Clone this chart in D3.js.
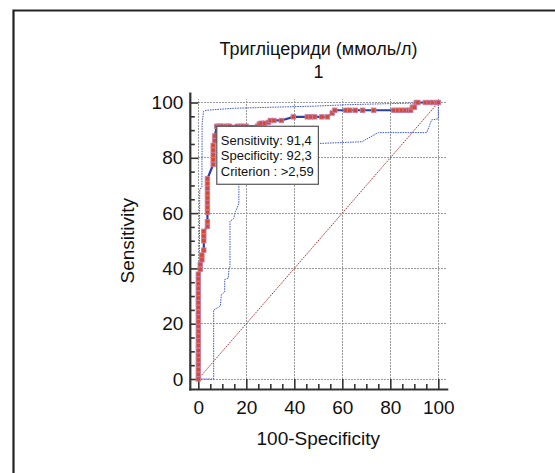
<!DOCTYPE html>
<html>
<head>
<meta charset="utf-8">
<script src="https://cdn.jsdelivr.net/npm/d3@7"></script>
<style>
    body { margin: 0; background: #fff; }
    svg { display: block; font-family: 'Liberation Sans', Arial, sans-serif; }
    .grid line { stroke: #9a9a9a; stroke-width: 1; stroke-dasharray: 2, 1; shape-rendering: crispEdges; }
    .axis text { font-size: 19px; fill: #111; }
    .axis line { stroke: #333; stroke-width: 1.6; }
    .label { font-size: 19px; fill: #111; }
    .title { font-size: 18px; fill: #111; }
    .info text { font-size: 13px; fill: #111; }
</style>
</head>
<body>
<svg width="555" height="473"></svg>
<script>
// ROC curve points: 100-Specificity and Sensitivity
const rocFpr = [
    0, 0, 0, 0, 0, 0, 0, 0, 0, 0, 0, 0, 0, 0, 0, 0, 0, 0, 0, 0, 0, 0, 0,
    0.8, 0.8, 1.5, 1.5, 2.3, 2.3, 2.3, 2.3,
    3.8, 3.8, 3.8, 3.8, 3.8, 3.8, 3.8, 3.8, 3.8, 3.8,
    6.2, 6.2, 6.2, 6.2, 6.2, 6.9, 6.9, 7.7,
    8.5, 9.2, 10.0, 11.5, 12.3, 13.1, 16.2, 17.7, 18.5, 20.0, 24.6,
    25.4, 26.2, 27.7, 29.2, 30.0, 31.5, 34.6, 39.6,
    45.4, 46.9, 48.5, 51.5, 53.8, 55.8, 56.9,
    61.5, 63.1, 65.4, 68.5, 73.1, 81.5, 83.1, 84.6, 86.2, 87.7, 88.5,
    89.2, 90.0, 90.8, 91.5, 94.6, 96.2, 97.7, 99.2, 100
];
const rocSens = [
    0, 1.7, 3.4, 5.2, 6.9, 8.6, 10.3, 12.1, 13.8, 15.5, 17.2, 19.0, 20.7, 22.4, 24.1, 25.9, 27.6, 29.3, 31.0, 32.8, 34.5, 36.2, 37.9,
    39.7, 41.4, 43.1, 44.8, 46.6, 50.0, 51.7, 53.4,
    55.2, 56.9, 60.3, 62.1, 63.8, 65.5, 67.2, 69.0, 70.7, 72.4,
    77.6, 79.3, 81.0, 82.8, 84.5, 86.2, 87.9, 91.4,
    91.4, 91.4, 91.4, 91.4, 91.4, 91.4, 91.4, 91.4, 91.4, 91.4, 91.4,
    92.2, 92.5, 92.5, 92.8, 93.5, 93.5, 93.5, 94.8,
    94.8, 94.8, 94.8, 94.8, 94.8, 96.2, 97.2,
    97.2, 97.2, 97.2, 97.2, 97.2, 97.2, 97.2, 97.2, 97.2, 97.2, 97.2,
    98.3, 98.3, 100, 100, 100, 100, 100, 100, 100
];

// 95% confidence bounds
const upperFpr = [0, 0.3, 0.6, 1.5, 1.6, 2.2, 3.5, 14.6, 31, 49, 62, 80, 90, 100];
const upperSens = [0, 20, 68.5, 69.5, 92.5, 96.8, 97.2, 97.9, 98.3, 98.7, 99.2, 99.6, 99.8, 100];
const lowerFpr = [0, 6.4, 6.4, 8.5, 9.2, 9.6, 11.0, 11.0, 12.5, 12.8, 13.2, 13.2, 14.7, 15.5, 16.9, 16.9, 18, 30, 48, 50.7, 68.1, 75, 95.2, 97.2, 100, 100];
const lowerSens = [0, 0, 25.0, 26.0, 26.5, 30.5, 31.5, 36.0, 36.5, 40.0, 40.5, 57.0, 58.0, 60.5, 63.5, 72.0, 80, 81.5, 84.5, 85.2, 85.8, 89.1, 89.1, 93.7, 94.1, 100];

const majorTicks = [0, 20, 40, 60, 80, 100];
const minorTicks = [5, 10, 15, 25, 30, 35, 45, 50, 55, 65, 70, 75, 85, 90, 95];

const criterion = { sens: 91.4, spec: 92.3, value: '>2,59' };
const infoLines = [
    `Sensitivity: ${criterion.sens.toFixed(1).replace('.', ',')}`,
    `Specificity: ${criterion.spec.toFixed(1).replace('.', ',')}`,
    `Criterion : ${criterion.value}`
];

const svg = d3.select('svg');

const xScale = d3.scaleLinear().domain([0, 100]).range([198.3, 438.3]);
const yScale = d3.scaleLinear().domain([0, 100]).range([379, 102.5]);

const yAxisX = xScale(0) - 8;
const xAxisY = yScale(0) + 10.5;

// outer frame
svg.append('path')
    .attr('d', 'M13.5,473 V10.5 H555')
    .attr('fill', 'none')
    .attr('stroke', '#222')
    .attr('stroke-width', 2.2)

// grid lines
const grid = svg.append('g').attr('class', 'grid')

grid.selectAll('.gx')
    .data(majorTicks)
    .enter()
    .append('line')
    .attr('x1', (d) => xScale(d))
    .attr('x2', (d) => xScale(d))
    .attr('y1', yScale(0))
    .attr('y2', yScale(100) - 4)

grid.selectAll('.gy')
    .data(majorTicks)
    .enter()
    .append('line')
    .attr('x1', xScale(0))
    .attr('x2', xScale(100) + 8)
    .attr('y1', (d) => yScale(d))
    .attr('y2', (d) => yScale(d))

// axes, ticks pointing inward
const xAxis = svg.append('g')
    .attr('class', 'axis')
    .attr('transform', `translate(0, ${xAxisY})`)

xAxis.append('g')
    .call(d3.axisBottom(xScale).tickValues(majorTicks).tickSize(-10.5).tickPadding(11))
xAxis.append('g')
    .call(d3.axisBottom(xScale).tickValues(minorTicks).tickSize(-5.5).tickFormat(''))

const yAxis = svg.append('g')
    .attr('class', 'axis')
    .attr('transform', `translate(${yAxisX}, 0)`)

yAxis.append('g')
    .call(d3.axisLeft(yScale).tickValues(majorTicks).tickSize(-8).tickPadding(7))
yAxis.append('g')
    .call(d3.axisLeft(yScale).tickValues(minorTicks).tickSize(-4.5).tickFormat(''))

svg.selectAll('.axis .domain').remove()
svg.selectAll('.axis text').attr('font-family', null).attr('font-size', null)

svg.append('line')
    .attr('x1', yAxisX - 1)
    .attr('x2', xScale(100) + 10)
    .attr('y1', xAxisY)
    .attr('y2', xAxisY)
    .attr('stroke', '#333')
    .attr('stroke-width', 2.2)

svg.append('line')
    .attr('x1', yAxisX)
    .attr('x2', yAxisX)
    .attr('y1', xAxisY + 1)
    .attr('y2', yScale(100) - 10)
    .attr('stroke', '#333')
    .attr('stroke-width', 2.2)

// reference diagonal
svg.append('line')
    .attr('x1', xScale(0))
    .attr('y1', yScale(0))
    .attr('x2', xScale(100))
    .attr('y2', yScale(100))
    .attr('stroke', '#a83232')
    .attr('stroke-width', 1)
    .attr('stroke-dasharray', '1.5,1')

// confidence bounds
const line = d3.line()
    .x((d) => xScale(d[0]))
    .y((d) => yScale(d[1]))

const bands = [
    d3.zip(upperFpr, upperSens),
    d3.zip(lowerFpr, lowerSens)
]

svg.selectAll('.band')
    .data(bands)
    .enter()
    .append('path')
    .attr('class', 'band')
    .attr('d', line)
    .attr('fill', 'none')
    .attr('stroke', '#3a55c8')
    .attr('stroke-width', 1)
    .attr('stroke-dasharray', '1.5,1')

// ROC curve
const roc = d3.zip(rocFpr, rocSens)

svg.append('path')
    .datum(roc)
    .attr('d', line)
    .attr('fill', 'none')
    .attr('stroke', '#2a40a8')
    .attr('stroke-width', 2.2)

svg.selectAll('.pt')
    .data(roc)
    .enter()
    .append('rect')
    .attr('class', 'pt')
    .attr('x', (d) => xScale(d[0]) - 2.2)
    .attr('y', (d) => yScale(d[1]) - 2.2)
    .attr('width', 4.4)
    .attr('height', 4.4)
    .attr('fill', '#d8472f')
    .attr('stroke', '#c67ca2')
    .attr('stroke-width', 0.9)

// criterion box, anchored at the optimal point
const info = svg.append('g')
    .attr('class', 'info')
    .attr('transform', `translate(${xScale(100 - criterion.spec)}, ${yScale(criterion.sens)})`)

info.append('rect')
    .attr('width', 101.6)
    .attr('height', 58)
    .attr('fill', '#fff')
    .attr('stroke', '#555')
    .attr('stroke-width', 1.2)

info.selectAll('text')
    .data(infoLines)
    .enter()
    .append('text')
    .attr('x', 4)
    .attr('y', (d, i) => 18.7 + i * 15.4)
    .text((d) => d)

// titles and labels
svg.append('text')
    .attr('class', 'title')
    .attr('x', 318.5)
    .attr('y', 55)
    .attr('text-anchor', 'middle')
    .text('Тригліцериди (ммоль/л)')

svg.append('text')
    .attr('class', 'title')
    .attr('x', 318.5)
    .attr('y', 78)
    .attr('text-anchor', 'middle')
    .text('1')

svg.append('text')
    .attr('class', 'label')
    .attr('x', -240.7)
    .attr('y', 134)
    .attr('transform', 'rotate(-90)')
    .attr('text-anchor', 'middle')
    .text('Sensitivity')

svg.append('text')
    .attr('class', 'label')
    .attr('x', 318.3)
    .attr('y', 445)
    .attr('text-anchor', 'middle')
    .text('100-Specificity')
</script>
</body>
</html>
